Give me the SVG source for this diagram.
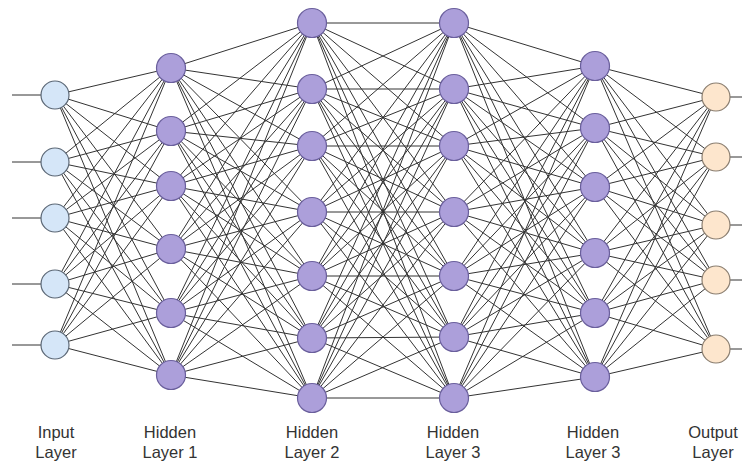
<svg xmlns="http://www.w3.org/2000/svg" width="742" height="461" viewBox="0 0 742 461">
<style>
.c{stroke:#333;stroke-width:1;fill:none}
.in{fill:#d5e6f8;stroke:#5b6775;stroke-width:1.2}
.hd{fill:#ac9fda;stroke:#6a5f9c;stroke-width:1.2}
.out{fill:#fde6cd;stroke:#8a7e70;stroke-width:1.2}
.t{font-family:"Liberation Sans",Arial,Helvetica,sans-serif;font-size:16.5px;fill:#333;text-anchor:middle}
</style>
<rect width="742" height="461" fill="#fff"/>
<g id="connectors" class="c">
<path d="M12 95H41M12 162H41M12 218H41M12 284H41M12 345H41M730 97H742M730 157H742M730 225H742M730 280H742M730 349H742"/>
<path d="M55 95L171 68M55 95L171 131M55 95L171 186M55 95L171 249M55 95L171 313M55 95L171 375M55 162L171 68M55 162L171 131M55 162L171 186M55 162L171 249M55 162L171 313M55 162L171 375M55 218L171 68M55 218L171 131M55 218L171 186M55 218L171 249M55 218L171 313M55 218L171 375M55 284L171 68M55 284L171 131M55 284L171 186M55 284L171 249M55 284L171 313M55 284L171 375M55 345L171 68M55 345L171 131M55 345L171 186M55 345L171 249M55 345L171 313M55 345L171 375"/>
<path d="M171 68L312 23M171 68L312 89M171 68L312 146M171 68L312 212M171 68L312 276M171 68L312 338M171 68L312 398M171 131L312 23M171 131L312 89M171 131L312 146M171 131L312 212M171 131L312 276M171 131L312 338M171 131L312 398M171 186L312 23M171 186L312 89M171 186L312 146M171 186L312 212M171 186L312 276M171 186L312 338M171 186L312 398M171 249L312 23M171 249L312 89M171 249L312 146M171 249L312 212M171 249L312 276M171 249L312 338M171 249L312 398M171 313L312 23M171 313L312 89M171 313L312 146M171 313L312 212M171 313L312 276M171 313L312 338M171 313L312 398M171 375L312 23M171 375L312 89M171 375L312 146M171 375L312 212M171 375L312 276M171 375L312 338M171 375L312 398"/>
<path d="M312 23L454 23M312 23L454 89M312 23L454 146M312 23L454 212M312 23L454 276M312 23L454 337M312 23L454 398M312 89L454 23M312 89L454 89M312 89L454 146M312 89L454 212M312 89L454 276M312 89L454 337M312 89L454 398M312 146L454 23M312 146L454 89M312 146L454 146M312 146L454 212M312 146L454 276M312 146L454 337M312 146L454 398M312 212L454 23M312 212L454 89M312 212L454 146M312 212L454 212M312 212L454 276M312 212L454 337M312 212L454 398M312 276L454 23M312 276L454 89M312 276L454 146M312 276L454 212M312 276L454 276M312 276L454 337M312 276L454 398M312 338L454 23M312 338L454 89M312 338L454 146M312 338L454 212M312 338L454 276M312 338L454 337M312 338L454 398M312 398L454 23M312 398L454 89M312 398L454 146M312 398L454 212M312 398L454 276M312 398L454 337M312 398L454 398"/>
<path d="M454 23L595 66M454 23L595 128M454 23L595 187M454 23L595 253M454 23L595 313M454 23L595 377M454 89L595 66M454 89L595 128M454 89L595 187M454 89L595 253M454 89L595 313M454 89L595 377M454 146L595 66M454 146L595 128M454 146L595 187M454 146L595 253M454 146L595 313M454 146L595 377M454 212L595 66M454 212L595 128M454 212L595 187M454 212L595 253M454 212L595 313M454 212L595 377M454 276L595 66M454 276L595 128M454 276L595 187M454 276L595 253M454 276L595 313M454 276L595 377M454 337L595 66M454 337L595 128M454 337L595 187M454 337L595 253M454 337L595 313M454 337L595 377M454 398L595 66M454 398L595 128M454 398L595 187M454 398L595 253M454 398L595 313M454 398L595 377"/>
<path d="M595 66L716 97M595 66L716 157M595 66L716 225M595 66L716 280M595 66L716 349M595 128L716 97M595 128L716 157M595 128L716 225M595 128L716 280M595 128L716 349M595 187L716 97M595 187L716 157M595 187L716 225M595 187L716 280M595 187L716 349M595 253L716 97M595 253L716 157M595 253L716 225M595 253L716 280M595 253L716 349M595 313L716 97M595 313L716 157M595 313L716 225M595 313L716 280M595 313L716 349M595 377L716 97M595 377L716 157M595 377L716 225M595 377L716 280M595 377L716 349"/>
</g>
<g id="input-layer">
<g id="i1"><circle class="in" cx="55" cy="95" r="14"/></g>
<g id="i2"><circle class="in" cx="55" cy="162" r="14"/></g>
<g id="i3"><circle class="in" cx="55" cy="218" r="14"/></g>
<g id="i4"><circle class="in" cx="55" cy="284" r="14"/></g>
<g id="i5"><circle class="in" cx="55" cy="345" r="14"/></g>
</g>
<g id="hidden-layer-1">
<g id="h1_1"><circle class="hd" cx="171" cy="68" r="14.5"/></g>
<g id="h1_2"><circle class="hd" cx="171" cy="131" r="14.5"/></g>
<g id="h1_3"><circle class="hd" cx="171" cy="186" r="14.5"/></g>
<g id="h1_4"><circle class="hd" cx="171" cy="249" r="14.5"/></g>
<g id="h1_5"><circle class="hd" cx="171" cy="313" r="14.5"/></g>
<g id="h1_6"><circle class="hd" cx="171" cy="375" r="14.5"/></g>
</g>
<g id="hidden-layer-2">
<g id="h2_1"><circle class="hd" cx="312" cy="23" r="14.5"/></g>
<g id="h2_2"><circle class="hd" cx="312" cy="89" r="14.5"/></g>
<g id="h2_3"><circle class="hd" cx="312" cy="146" r="14.5"/></g>
<g id="h2_4"><circle class="hd" cx="312" cy="212" r="14.5"/></g>
<g id="h2_5"><circle class="hd" cx="312" cy="276" r="14.5"/></g>
<g id="h2_6"><circle class="hd" cx="312" cy="338" r="14.5"/></g>
<g id="h2_7"><circle class="hd" cx="312" cy="398" r="14.5"/></g>
</g>
<g id="hidden-layer-3">
<g id="h3_1"><circle class="hd" cx="454" cy="23" r="14.5"/></g>
<g id="h3_2"><circle class="hd" cx="454" cy="89" r="14.5"/></g>
<g id="h3_3"><circle class="hd" cx="454" cy="146" r="14.5"/></g>
<g id="h3_4"><circle class="hd" cx="454" cy="212" r="14.5"/></g>
<g id="h3_5"><circle class="hd" cx="454" cy="276" r="14.5"/></g>
<g id="h3_6"><circle class="hd" cx="454" cy="337" r="14.5"/></g>
<g id="h3_7"><circle class="hd" cx="454" cy="398" r="14.5"/></g>
</g>
<g id="hidden-layer-3b">
<g id="h4_1"><circle class="hd" cx="595" cy="66" r="14.5"/></g>
<g id="h4_2"><circle class="hd" cx="595" cy="128" r="14.5"/></g>
<g id="h4_3"><circle class="hd" cx="595" cy="187" r="14.5"/></g>
<g id="h4_4"><circle class="hd" cx="595" cy="253" r="14.5"/></g>
<g id="h4_5"><circle class="hd" cx="595" cy="313" r="14.5"/></g>
<g id="h4_6"><circle class="hd" cx="595" cy="377" r="14.5"/></g>
</g>
<g id="output-layer">
<g id="o1"><circle class="out" cx="716" cy="97" r="14"/></g>
<g id="o2"><circle class="out" cx="716" cy="157" r="14"/></g>
<g id="o3"><circle class="out" cx="716" cy="225" r="14"/></g>
<g id="o4"><circle class="out" cx="716" cy="280" r="14"/></g>
<g id="o5"><circle class="out" cx="716" cy="349" r="14"/></g>
</g>
<g id="labels" class="t">
<text x="56" y="438">Input</text><text x="56" y="457.5">Layer</text>
<text x="170" y="438">Hidden</text><text x="170" y="457.5">Layer 1</text>
<text x="312" y="438">Hidden</text><text x="312" y="457.5">Layer 2</text>
<text x="453" y="438">Hidden</text><text x="453" y="457.5">Layer 3</text>
<text x="593" y="438">Hidden</text><text x="593" y="457.5">Layer 3</text>
<text x="713" y="438">Output</text><text x="713" y="457.5">Layer</text>
</g>
</svg>
